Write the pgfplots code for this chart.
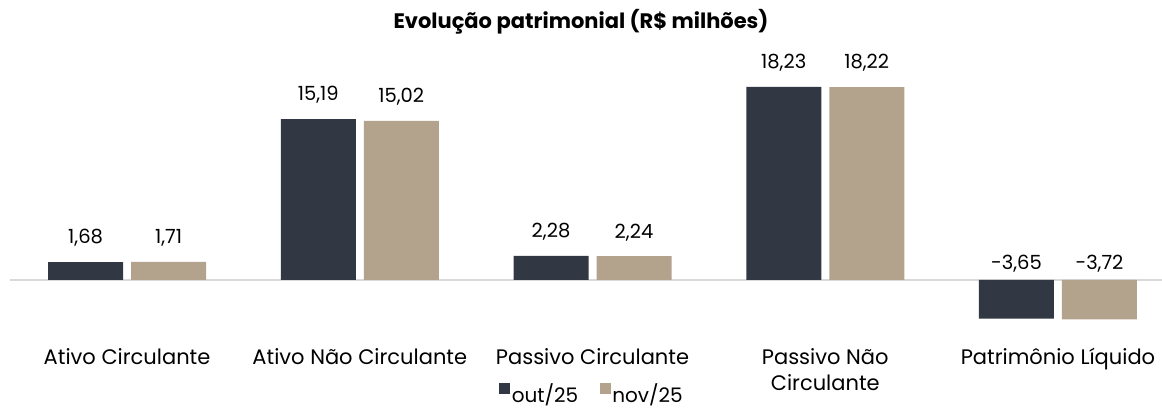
\documentclass[border=0pt]{standalone}
\usepackage{pgfplots}
\pgfplotsset{compat=1.18}
\usepackage{fontspec}
\setmainfont{Poppins}
\definecolor{dark}{HTML}{323843}
\definecolor{tan}{HTML}{B3A28C}
\definecolor{zero}{HTML}{D9D9D9}
\begin{document}
\begin{tikzpicture}
\useasboundingbox (0,0) rectangle (1162pt,410pt);
\node[font=\fontsize{21}{24}\selectfont\bfseries] at (581pt,388pt) {Evolução patrimonial (R\$ milhões)};
\begin{axis}[
  at={(10pt,71.8pt)}, anchor=south west,
  scale only axis, width=1152pt, height=285.9pt,
  xmin=-0.503, xmax=4.447, ymin=-5.5, ymax=21.5,
  clip=false,
  axis line style={draw=none},
  major tick length=0pt,
  ytick=\empty,
  extra y ticks={0}, extra y tick labels={},
  extra y tick style={grid=major, major grid style={draw=zero, line width=1.2pt}},
  xtick={0,1,2,3,4},
  xticklabels={Ativo Circulante, Ativo Não Circulante, Passivo Circulante, {Passivo Não\\Circulante}, Patrimônio Líquido},
  xticklabel style={font=\fontsize{21}{26}\selectfont, align=center, anchor=north, inner sep=0pt, yshift=-10pt},
  ybar, bar width=75pt,
  nodes near coords,
  nodes near coords align={center},
  visualization depends on={rawy \as \rawy},
  every node near coord/.append style={font=\fontsize{19.5}{22}\selectfont, yshift={\rawy<0 ? -\rawy*10.59+16 : 24}},
  /pgf/number format/.cd, use comma, fixed, fixed zerofill, precision=2, assume math mode=true,
  /pgfplots/.cd,
  legend style={at={(0.505,-0.235)}, anchor=south, draw=none, legend columns=2, font=\fontsize{20}{22}\selectfont,
    inner sep=0pt, nodes={inner sep=1.5pt},
    /tikz/every even column/.append style={column sep=20pt}},
  legend image code/.code={\fill[#1] (0pt,-0.5pt) rectangle (11pt,10.5pt);},
]
\addplot[fill=dark, draw=none, bar shift=-41.5pt] coordinates {(0,1.68) (1,15.19) (2,2.28) (3,18.23) (4,-3.65)};
\addplot[fill=tan, draw=none, bar shift=41.5pt] coordinates {(0,1.71) (1,15.02) (2,2.24) (3,18.22) (4,-3.72)};
\legend{out/25, nov/25}
\end{axis}
\end{tikzpicture}
\end{document}
